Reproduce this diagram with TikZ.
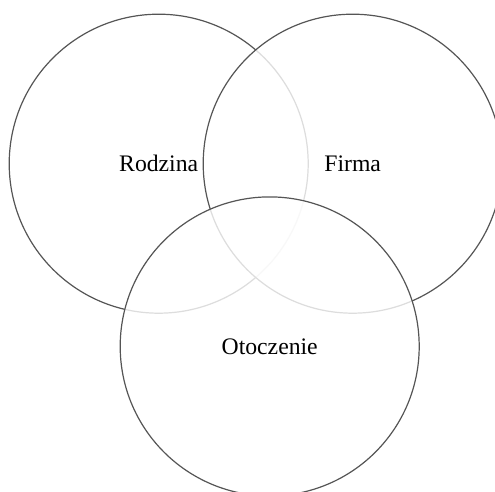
\documentclass[tikz,border=0pt]{standalone}
\usepackage{fontspec}
\setmainfont{Liberation Serif}
\usetikzlibrary{positioning}
\definecolor{ink}{HTML}{555555}

\begin{document}
\begin{tikzpicture}[x=1pt, y=-1pt,
  ring/.style={circle, draw=ink, line width=1.2pt, fill=white, fill opacity=0.8,
    text opacity=1, minimum size=299pt, inner sep=0pt,
    font=\fontsize{23.7}{28}\selectfont}]
\useasboundingbox (0,0) rectangle (495,492);
\node[ring] (rodzina) at (158.7,163.7) {Rodzina};
\node[ring] (firma) at (352.7,163.7) {Firma};
\node[ring] (otoczenie) at (269.7,346.4) {Otoczenie};
\end{tikzpicture}
\end{document}
